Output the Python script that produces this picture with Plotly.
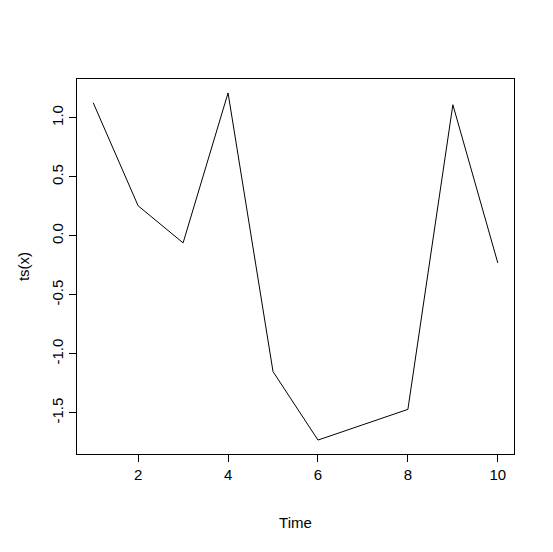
import plotly.graph_objects as go

time = [1, 2, 3, 4, 5, 6, 7, 8, 9, 10]
values = [1.127, 0.254, -0.06, 1.21, -1.15, -1.73, -1.60, -1.47, 1.11, -0.23]

fig = go.Figure(go.Scatter(x=time, y=values, mode="lines",
                           line=dict(color="black", width=1)))

axis_common = dict(showline=True, linecolor="black", linewidth=1, mirror=True,
                   showgrid=False, zeroline=False, ticks="outside", ticklen=7,
                   tickcolor="black", tickfont=dict(size=15, color="black"),
                   automargin=False)

fig.update_xaxes(range=[0.64, 10.36], tickvals=[2, 4, 6, 8, 10],
                 title=dict(text="Time", font=dict(size=15, color="black"), standoff=35),
                 **axis_common)
fig.update_yaxes(range=[-1.848, 1.328], tickvals=[-1.5, -1.0, -0.5, 0.0, 0.5, 1.0],
                 ticktext=["-1.5", "-1.0", "-0.5", "0.0", "0.5", "1.0"], tickangle=-90,
                 title=dict(text="ts(x)", font=dict(size=15, color="black"), standoff=15),
                 **axis_common)

fig.update_layout(width=553, height=552, margin=dict(l=69, r=47, t=71, b=106),
                  plot_bgcolor="white", paper_bgcolor="white", showlegend=False,
                  font=dict(family="Liberation Sans, Arial, sans-serif"))

fig.write_html("out.html")
